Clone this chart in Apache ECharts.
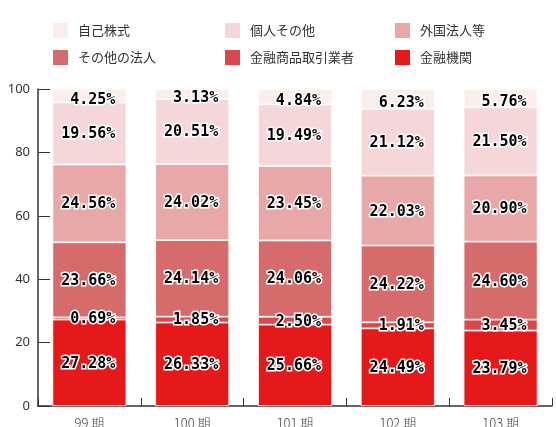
<!DOCTYPE html>
<html><head><meta charset="utf-8">
<script src="https://cdn.jsdelivr.net/npm/echarts@6/dist/echarts.min.js"></script>
<style>html,body{margin:0;padding:0;background:#fff}#c{width:556px;height:427px}</style>
</head><body><div id="c"></div>
<script>
const categories = ['99 期','100 期','101 期','102 期','103 期'];
const seriesNames = ['金融機関','金融商品取引業者','その他の法人','外国法人等','個人その他','自己株式'];
const kinyuKikan = [27.28, 26.33, 25.66, 24.49, 23.79];
const shokenGyosha = [0.69, 1.85, 2.50, 1.91, 3.45];
const sonotaHojin = [23.66, 24.14, 24.06, 24.22, 24.60];
const gaikokuHojin = [24.56, 24.02, 23.45, 22.03, 20.90];
const kojinSonota = [19.56, 20.51, 19.49, 21.12, 21.50];
const jikoKabushiki = [4.25, 3.13, 4.84, 6.23, 5.76];
const yTicks = [0, 20, 40, 60, 80, 100];

const colors = ['#E5191A','#D9494B','#D66B6B','#E8A8A8','#F6D7D9','#FBEEEA'];
const values = [kinyuKikan, shokenGyosha, sonotaHojin, gaikokuHojin, kojinSonota, jikoKabushiki];

const legendOrder = ['自己株式','個人その他','外国法人等','その他の法人','金融商品取引業者','金融機関'];
const legendPos = [[51,21],[223,21],[393,21],[51,48],[223,48],[393,48]];

const chart = echarts.init(document.getElementById('c'));
const legends = legendOrder.map((n, i) => ({
  data: [n], left: legendPos[i][0], top: legendPos[i][1],
  icon: 'rect', itemWidth: 17, itemHeight: 17, padding: 0,
  selectedMode: false,
  textStyle: { fontSize: 13, color: '#333', fontFamily: 'Noto Sans CJK JP', padding: [0,0,0,4] }
}));

const series = seriesNames.map((n, i) => ({
  name: n, type: 'bar', stack: 'total', barWidth: 74,
  data: values[i],
  itemStyle: { color: colors[i], borderColor: '#fff', borderWidth: 0.8 },
  label: {
    show: true, position: 'insideRight', distance: 11,
    offset: i === 5 ? [0, 4] : [0, 1],
    formatter: p => p.value.toFixed(2) + '%',
    fontFamily: 'DejaVu Sans Mono', fontWeight: 'bold', fontSize: 15,
    color: '#000', textBorderColor: '#fff', textBorderWidth: 3
  }
}));

chart.setOption({
  animation: false,
  legend: legends,
  grid: { left: 38, right: 4, top: 89, bottom: 21, containLabel: false, outerBoundsMode: 'none' },
  xAxis: {
    type: 'category', data: categories,
    axisLine: { lineStyle: { color: '#333', width: 1.5 } },
    axisTick: { show: true, inside: true, length: 8, lineStyle: { color: '#333' } },
    axisLabel: { fontSize: 13, color: '#444', margin: 11, fontFamily: 'Noto Sans CJK JP', fontWeight: 300 }
  },
  yAxis: {
    type: 'value', min: yTicks[0], max: yTicks[yTicks.length - 1], interval: 20,
    axisLine: { show: true, lineStyle: { color: '#333', width: 1.5 } },
    axisTick: { show: true, inside: true, length: 12, lineStyle: { color: '#333' } },
    splitLine: { show: false },
    axisLabel: { fontSize: 13, color: '#333', margin: 8, fontFamily: 'Noto Sans' }
  },
  series: series
});
</script></body></html>
